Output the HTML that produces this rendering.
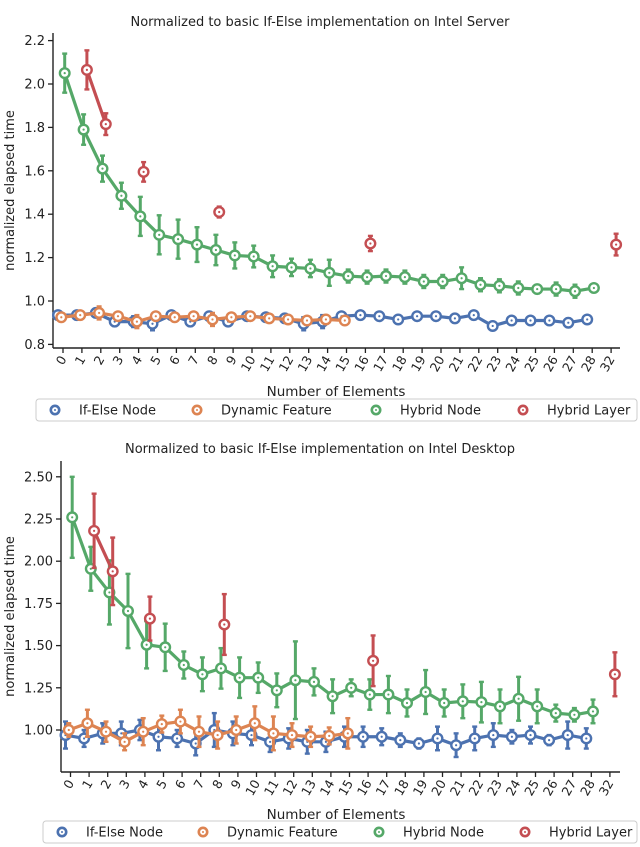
<!DOCTYPE html>
<html><head><meta charset="utf-8"><style>
body{margin:0;background:#fff;}
svg{display:block;font-family:"DejaVu Sans","Liberation Sans",sans-serif;}
</style></head><body>
<svg id="chart" width="640" height="847" viewBox="0 0 640 847"></svg>
<script>
const categories=["0","1","2","3","4","5","6","7","8","9","10","11","12","13","14","15","16","17","18","19","20","21","22","23","24","25","26","27","28","32"];
const seriesNames=["If-Else Node","Dynamic Feature","Hybrid Node","Hybrid Layer"];
const colors=["#4c72b0","#dd8452","#55a868","#c44e52"];
// Top (Intel Server)
const topBlue=[0.935,0.935,0.945,0.905,0.905,0.895,0.935,0.905,0.93,0.905,0.93,0.925,0.92,0.895,0.905,0.93,0.935,0.93,0.915,0.93,0.93,0.92,0.935,0.885,0.91,0.91,0.91,0.9,0.915,null];
const topBlueErr=[0.015,0.01,0.02,0.02,0.025,0.03,0.015,0.02,0.02,0.015,0.01,0.015,0.02,0.03,0.03,0.015,0.01,0.01,0.02,0.01,0.01,0.02,0.01,0.02,0.02,0.015,0.02,0.02,0.01,null];
const topOrange=[0.925,0.935,0.945,0.93,0.905,0.93,0.925,0.93,0.915,0.925,0.93,0.92,0.915,0.91,0.915,0.91,null,null,null,null,null,null,null,null,null,null,null,null,null,null];
const topOrangeErr=[0.01,0.01,0.03,0.01,0.03,0.01,0.01,0.01,0.03,0.01,0.01,0.01,0.02,0.01,0.02,0.01,null,null,null,null,null,null,null,null,null,null,null,null,null,null];
const topGreen=[2.05,1.79,1.61,1.485,1.39,1.305,1.285,1.26,1.235,1.21,1.205,1.16,1.155,1.15,1.13,1.115,1.11,1.115,1.11,1.09,1.09,1.105,1.075,1.07,1.06,1.055,1.055,1.045,1.06,null];
const topGreenErr=[0.09,0.07,0.06,0.06,0.09,0.09,0.09,0.08,0.07,0.06,0.05,0.05,0.04,0.04,0.06,0.03,0.03,0.03,0.03,0.03,0.03,0.05,0.03,0.03,0.03,0.02,0.03,0.03,0.01,null];
const topRed=[null,2.065,1.815,null,1.595,null,null,null,1.41,null,null,null,null,null,null,null,1.265,null,null,null,null,null,null,null,null,null,null,null,null,1.26];
const topRedErr=[null,0.09,0.05,null,0.045,null,null,null,0.025,null,null,null,null,null,null,null,0.035,null,null,null,null,null,null,null,null,null,null,null,null,0.05];
const topTicks=[0.8,1.0,1.2,1.4,1.6,1.8,2.0,2.2];
const topTickLabels=["0.8","1.0","1.2","1.4","1.6","1.8","2.0","2.2"];
// Bottom (Intel Desktop)
const botBlue=[0.97,0.95,0.98,0.98,1.0,0.96,0.95,0.92,1.0,0.98,0.97,0.93,0.95,0.93,0.93,0.96,0.96,0.96,0.94,0.92,0.95,0.91,0.95,0.97,0.96,0.97,0.94,0.97,0.95,null];
const botBlueErr=[0.08,0.05,0.06,0.07,0.06,0.08,0.05,0.07,0.1,0.07,0.06,0.06,0.06,0.07,0.06,0.06,0.06,0.05,0.04,0.03,0.07,0.07,0.07,0.07,0.04,0.05,0.03,0.08,0.06,null];
const botOrange=[1.0,1.04,0.99,0.93,0.99,1.035,1.05,0.99,0.97,1.0,1.04,0.98,0.97,0.96,0.965,0.98,null,null,null,null,null,null,null,null,null,null,null,null,null,null];
const botOrangeErr=[0.04,0.08,0.06,0.05,0.08,0.05,0.07,0.09,0.08,0.08,0.1,0.1,0.07,0.06,0.05,0.09,null,null,null,null,null,null,null,null,null,null,null,null,null,null];
const botGreen=[2.26,1.955,1.815,1.705,1.505,1.49,1.385,1.33,1.365,1.31,1.31,1.235,1.295,1.285,1.2,1.25,1.21,1.21,1.16,1.225,1.16,1.17,1.165,1.14,1.185,1.14,1.1,1.09,1.11,null];
const botGreenErr=[0.24,0.13,0.19,0.22,0.14,0.14,0.08,0.1,0.12,0.12,0.09,0.1,0.23,0.08,0.1,0.05,0.09,0.11,0.08,0.13,0.08,0.1,0.12,0.1,0.13,0.1,0.05,0.04,0.07,null];
const botRed=[null,2.18,1.94,null,1.66,null,null,null,1.625,null,null,null,null,null,null,null,1.41,null,null,null,null,null,null,null,null,null,null,null,null,1.33];
const botRedErr=[null,0.22,0.2,null,0.13,null,null,null,0.18,null,null,null,null,null,null,null,0.15,null,null,null,null,null,null,null,null,null,null,null,null,0.13];
const botTicks=[1.0,1.25,1.5,1.75,2.0,2.25,2.5];
const botTickLabels=["1.00","1.25","1.50","1.75","2.00","2.25","2.50"];

const NS="http://www.w3.org/2000/svg";
const svg=document.getElementById('chart');
function mk(tag,attrs,parent){const e=document.createElementNS(NS,tag);for(const k in attrs)e.setAttribute(k,attrs[k]);(parent||svg).appendChild(e);return e;}
const dodge=[-5,-1.7,1.7,5];

function panel(cfg){
  const g=mk('g',{});
  
  
  const xS=i=>cfg.x0+i*cfg.step;
  const yS=v=>cfg.yRef+(cfg.vRef-v)*cfg.ppu;
  const t=mk('text',{x:320,y:cfg.titleY,'text-anchor':'middle','font-size':13,fill:'#222'},g);t.textContent=cfg.title;
  
  
  const ya=mk('line',{x1:cfg.axX,x2:cfg.axX,y1:cfg.axTop,y2:cfg.axBot,stroke:'#222','stroke-width':1.4},g);
  
  
  const xa=mk('line',{x1:cfg.axX,x2:620,y1:cfg.axBot,y2:cfg.axBot,stroke:'#222','stroke-width':1.4},g);
  
  
  cfg.ticks.forEach((v,i)=>{const y=yS(v);
    mk('line',{x1:cfg.axX-5,x2:cfg.axX,y1:y,y2:y,stroke:'#222','stroke-width':1.3},g);
    const tl=mk('text',{x:cfg.axX-8,y:y+4.5,'text-anchor':'end','font-size':13,fill:'#222'},g);tl.textContent=cfg.tickLabels[i];
    
    
  });
  categories.forEach((c,i)=>{const x=xS(i);
    mk('line',{x1:x,x2:x,y1:cfg.axBot,y2:cfg.axBot+5,stroke:'#222','stroke-width':1.3},g);
    const tl=mk('text',{x:x+4,y:cfg.axBot+11,'text-anchor':'end','font-size':12.5,fill:'#222',transform:`rotate(-60 ${x+4} ${cfg.axBot+11})`},g);tl.textContent=c;
    
    
  });
  const yt=mk('text',{x:0,y:0,'text-anchor':'middle','font-size':13,fill:'#222',transform:`translate(14 ${(cfg.axTop+cfg.axBot)/2}) rotate(-90)`},g);yt.textContent='normalized elapsed time';
  
  
  const xt=mk('text',{x:336,y:cfg.xTitleY,'text-anchor':'middle','font-size':13.5,fill:'#222'},g);xt.textContent='Number of Elements';
  
  
  cfg.series.forEach((s,si)=>{
    const col=colors[si];const vals=s[0],errs=s[1];
    const sg=mk('g',{},g);
    
    
    for(let i=0;i<vals.length-1;i++){if(vals[i]!=null&&vals[i+1]!=null){
      mk('line',{x1:xS(i)+dodge[si],y1:yS(vals[i]),x2:xS(i+1)+dodge[si],y2:yS(vals[i+1]),stroke:col,'stroke-width':3.2,'stroke-linecap':'round'},sg);}}
    vals.forEach((v,i)=>{if(v==null)return;const x=xS(i)+dodge[si];
      const y1=yS(v+errs[i]),y2=yS(v-errs[i]);
      mk('line',{x1:x,x2:x,y1:y1,y2:y2,stroke:col,'stroke-width':3},sg);
      mk('line',{x1:x-2.5,x2:x+2.5,y1:y1,y2:y1,stroke:col,'stroke-width':2.4},sg);
      mk('line',{x1:x-2.5,x2:x+2.5,y1:y2,y2:y2,stroke:col,'stroke-width':2.4},sg);
      const p=mk('circle',{cx:x,cy:yS(v),r:4.8,fill:'#fff',stroke:col,'stroke-width':2.4},sg);
      
      
      mk('circle',{cx:x,cy:yS(v),r:1.1,fill:col},sg);
    });
  });
  const lg=mk('g',{},g);
  
  
  mk('rect',{x:cfg.lgX,y:cfg.lgY,width:637-cfg.lgX,height:22,rx:3,fill:'#fff',stroke:'#ccc','stroke-width':1},lg);
  const xs=cfg.lgItems;
  seriesNames.forEach((n,si)=>{
    const e=mk('g',{},lg);
    
    
    mk('circle',{cx:xs[si],cy:cfg.lgY+11,r:4.2,fill:'#fff',stroke:colors[si],'stroke-width':2.6},e);
    mk('circle',{cx:xs[si],cy:cfg.lgY+11,r:1,fill:colors[si]},e);
    const tx=mk('text',{x:xs[si]+24,y:cfg.lgY+15.5,'font-size':13,fill:'#222'},e);tx.textContent=n;
  });
}
panel({name:'server-chart',title:'Normalized to basic If-Else implementation on Intel Server',titleY:26,
  x0:63,step:18.9,yRef:301,vRef:1.0,ppu:217,axX:53,axTop:33,axBot:348,xTitleY:396,
  ticks:topTicks,tickLabels:topTickLabels,lgX:36,lgY:399,lgItems:[55,197,376,523],
  series:[[topBlue,topBlueErr],[topOrange,topOrangeErr],[topGreen,topGreenErr],[topRed,topRedErr]]});
panel({name:'desktop-chart',title:'Normalized to basic If-Else implementation on Intel Desktop',titleY:453,
  x0:70.5,step:18.6,yRef:730,vRef:1.0,ppu:168.8,axX:61,axTop:461,axBot:772,xTitleY:819,
  ticks:botTicks,tickLabels:botTickLabels,lgX:43,lgY:821,lgItems:[62,203,379,525],
  series:[[botBlue,botBlueErr],[botOrange,botOrangeErr],[botGreen,botGreenErr],[botRed,botRedErr]]});
</script>
</body></html>
